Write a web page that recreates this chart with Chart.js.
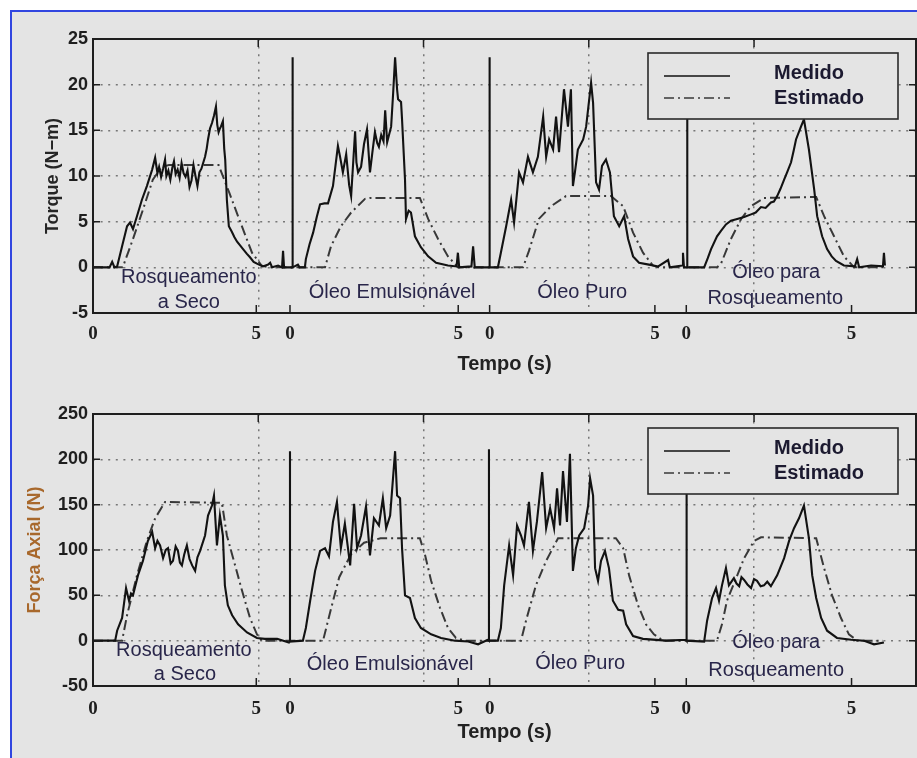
<!DOCTYPE html>
<html>
<head>
<meta charset="utf-8">
<script src="https://cdn.jsdelivr.net/npm/chart.js@4/dist/chart.umd.min.js"></script>
<style>
  body { margin: 0; background: #fff; }
  #folha { position: absolute; left: 10px; top: 10px; width: 907px; height: 748px; background: #e4e4e4;
           border-top: 2px solid #3146e0; border-left: 2px solid #3146e0; }
  canvas { position: absolute; left: 0; }
</style>
</head>
<body>
<div id="folha"></div>
<canvas id="torque" width="917" height="380" style="top:0"></canvas>
<canvas id="forca" width="917" height="378" style="top:380px"></canvas>
<script>
// eixo do tempo: quatro ensaios colados, cada um com seu 0 e 5 s
const marcasTempo = [0, 4.94, 5.96, 11.05, 12.0, 17.0, 17.95, 22.95];
const rotulosTempo = ['0', '5', '0', '5', '0', '5', '0', '5'];

// Torque medido (N-m)
const tTorqueMedido = [
  0, 0.5, 0.58, 0.65, 0.73, 0.88, 1.03, 1.12, 1.21, 1.33, 1.48, 1.63, 1.79, 1.88,
  1.95, 2.0, 2.06, 2.12, 2.18, 2.22, 2.28, 2.34, 2.4, 2.45, 2.5, 2.56, 2.62, 2.68, 2.74, 2.8, 2.86, 2.92, 2.98, 3.04, 3.1, 3.16, 3.22, 3.28,
  3.39, 3.44, 3.48, 3.54, 3.6, 3.66, 3.72, 3.76, 3.8, 3.84, 3.87, 3.93, 3.97, 4.0, 4.05, 4.11, 4.2, 4.28, 4.36, 4.45, 4.54, 4.65, 4.75, 4.86, 4.96, 5.14, 5.3, 5.36, 5.42, 5.6, 5.72, 5.75, 5.78, 6.04, 6.04, 6.04,
  6.2, 6.25, 6.41, 6.44, 6.55, 6.66, 6.77, 6.87, 7.0, 7.11, 7.26, 7.41, 7.47, 7.56, 7.66, 7.75, 7.81, 7.93, 7.97, 8.02, 8.11, 8.2, 8.29, 8.38, 8.45, 8.53, 8.6, 8.65, 8.72, 8.79, 8.84, 8.9, 9.02, 9.08, 9.14, 9.2, 9.23, 9.32, 9.35, 9.44, 9.47, 9.55, 9.62, 9.74, 9.92, 10.14, 10.38, 10.74, 11.0, 11.04, 11.08, 11.45, 11.5, 11.55, 12.0, 12.0, 12.0,
  12.25, 12.34, 12.5, 12.65, 12.74, 12.89, 13.01, 13.16, 13.31, 13.46, 13.62, 13.71, 13.8, 13.92, 14.01, 14.1, 14.25, 14.37, 14.46, 14.52, 14.58, 14.67, 14.83, 14.92, 15.07, 15.13, 15.22, 15.31, 15.4, 15.52, 15.64, 15.76, 15.92, 16.07, 16.19, 16.34, 16.52, 16.82, 17.1, 17.4, 17.45, 17.83, 17.85, 17.88, 17.98, 17.98, 17.98,
  18.49, 18.6, 18.7, 18.88, 19.0, 19.15, 19.3, 19.49, 19.7, 19.91, 20.05, 20.21, 20.35, 20.51, 20.6, 20.7, 20.8, 20.91, 21.0, 21.12, 21.2, 21.27, 21.42, 21.51, 21.66, 21.82, 21.91, 22.06, 22.21, 22.35, 22.48, 22.72, 23.05, 23.12, 23.18, 23.54, 23.9, 23.93, 23.96
];
const torqueMedido = [
  0, 0, 0.6, 0, 0.1, 2.3, 4.5, 4.9, 4.2, 5.6, 7.4, 8.9, 10.7, 12.0,
  10.3, 11.0, 9.9, 10.8, 11.8, 10.0, 10.6, 9.6, 10.9, 11.6, 10.2, 10.7, 9.8, 11.4, 10.3, 9.9, 10.6, 8.8, 9.5, 11.2, 10.0, 8.9, 10.4, 10.8,
  12.1, 13.0, 14.0, 15.2, 15.8, 16.6, 17.6, 15.6, 14.8, 15.2, 15.4, 16.0, 13.0, 11.8, 7.4, 4.5, 3.9, 3.3, 2.8, 2.4, 2.0, 1.5, 1.1, 0.6, 0.4, 0.1, 0.3, 0.5, 0, 0.2, 0, 1.8, 0, 0, 23, 0,
  0.3, 0, 0, 0.9, 2.5, 3.8, 5.5, 6.9, 7.0, 7.0, 8.9, 13.3, 12.2, 10.4, 12.4, 9.0, 7.8, 14.9, 11.5, 10.4, 11.0, 13.5, 15.1, 10.4, 12.5, 14.8, 13.6, 13.2, 14.5, 13.8, 17.2, 13.7, 15.4, 19.0, 23.0, 19.5, 18.4, 18.1, 16.2, 9.6, 5.3, 6.2, 6.0, 3.4, 2.2, 1.2, 0.5, 0.2, 0.1, 1.6, 0, 0.1, 2.3, 0, 0, 23, 0,
  0, 1.6, 4.5, 7.4, 4.9, 10.4, 9.3, 12.1, 10.4, 12.1, 16.5, 12.1, 14.0, 12.9, 16.5, 12.6, 19.5, 15.4, 19.5, 8.9, 10.4, 12.9, 14.0, 15.4, 20.2, 18.0, 9.3, 8.5, 11.1, 11.8, 10.4, 5.6, 4.5, 5.6, 3.1, 1.2, 0.5, 0.3, 0.1, 0.8, 0, 0.2, 1.6, 0, 0, 23, 0,
  0, 1.0, 2.0, 3.4, 4.0, 4.7, 5.1, 5.3, 5.5, 5.8, 6.0, 6.6, 6.5, 7.1, 7.2, 7.8, 8.6, 9.6, 10.4, 11.5, 12.8, 14.0, 15.4, 16.2, 12.9, 8.5, 5.6, 3.4, 2.0, 1.2, 0.7, 0.2, 0.1, 0.9, 0, 0.2, 0.1, 1.6, 0.2
];

// Torque estimado (N-m)
const tTorqueEstimado = [
  0, 0.9, 1.21, 1.51, 1.81, 2.08, 2.3, 3.8, 4.12, 4.42, 4.81, 5.1, 5.3,
  7.02, 7.2, 7.5, 7.81, 8.23, 8.4, 9.89, 10.14, 10.44, 10.74, 11.04,
  13.01, 13.19, 13.49, 13.86, 14.31, 15.67, 16.04, 16.34, 16.64, 16.94, 17.1,
  18.88, 19.0, 19.3, 19.61, 19.91, 20.3, 21.88, 22.12, 22.42, 22.72, 23.03, 23.9
];
const torqueEstimado = [
  0, 0, 3.1, 6.3, 9.6, 11.0, 11.2, 11.2, 8.2, 5.3, 1.6, 0.2, 0,
  0, 2.3, 4.5, 6.0, 7.5, 7.6, 7.6, 5.3, 3.1, 1.2, 0,
  0, 1.8, 5.3, 6.7, 7.8, 7.8, 6.7, 3.8, 1.6, 0.2, 0,
  0, 0.4, 3.1, 5.3, 6.7, 7.6, 7.7, 5.6, 3.4, 1.2, 0, 0
];

// Força axial medida (N)
const tForcaMedido = [
  0, 0.67, 0.73, 0.88, 1.0, 1.05, 1.09, 1.15, 1.21, 1.36, 1.51, 1.66, 1.79, 1.88, 1.95, 2.03, 2.12, 2.2, 2.27, 2.35, 2.42, 2.5, 2.57, 2.63, 2.69, 2.76, 2.84, 2.92, 3.0, 3.09, 3.16, 3.24, 3.39, 3.48, 3.6, 3.66, 3.75, 3.84, 3.93, 3.99, 4.08, 4.21, 4.39, 4.66, 4.96, 5.2, 5.57, 5.93, 5.96, 5.96, 5.96,
  6.35, 6.44, 6.57, 6.72, 6.87, 7.02, 7.14, 7.26, 7.38, 7.5, 7.62, 7.78, 7.9, 7.99, 8.11, 8.26, 8.38, 8.5, 8.65, 8.77, 8.87, 8.99, 9.14, 9.2, 9.29, 9.35, 9.44, 9.59, 9.74, 9.92, 10.23, 10.53, 10.95, 11.35, 11.65, 11.95, 11.98, 11.98, 11.98,
  12.25, 12.34, 12.44, 12.59, 12.71, 12.83, 12.95, 13.04, 13.19, 13.31, 13.43, 13.59, 13.71, 13.83, 13.95, 14.04, 14.13, 14.22, 14.34, 14.43, 14.52, 14.61, 14.71, 14.86, 14.98, 15.04, 15.13, 15.19, 15.28, 15.37, 15.49, 15.61, 15.73, 15.89, 16.04, 16.13, 16.34, 16.64, 17.34, 17.94, 17.96, 17.96, 17.96,
  18.49, 18.58, 18.73, 18.85, 18.94, 19.03, 19.15, 19.24, 19.39, 19.47, 19.55, 19.62, 19.7, 19.8, 19.91, 20.0, 20.09, 20.2, 20.3, 20.4, 20.51, 20.7, 20.91, 21.06, 21.21, 21.36, 21.51, 21.66, 21.76, 21.88, 22.03, 22.21, 22.51, 22.94, 23.33, 23.63, 23.93
];
const forcaMedido = [
  0, 0, 11, 25, 58, 50, 44, 52, 50, 72, 88, 110, 120, 102, 110, 105, 91, 100, 102, 85, 88, 104, 99, 86, 83, 95, 105, 90, 83, 77, 92, 99, 116, 138, 149, 160, 105, 138, 116, 61, 39, 28, 18, 9, 3, 2, 2, -2, -1, 209, -1,
  0, 14, 44, 77, 99, 102, 93, 131, 153, 102, 129, 83, 151, 102, 116, 148, 94, 135, 127, 157, 124, 138, 209, 160, 157, 102, 50, 47, 25, 14, 7, 3, 0, -1, -4, 1, 0, 211, 0,
  0, 14, 61, 105, 72, 127, 116, 105, 153, 99, 131, 186, 124, 146, 124, 168, 127, 187, 131, 206, 77, 102, 116, 124, 149, 179, 160, 80, 66, 88, 99, 80, 44, 34, 33, 18, 5, 2, 0, 1, 0, 211, 0,
  -1, 22, 47, 58, 44, 61, 80, 61, 69, 63, 60, 70, 67, 62, 58, 68, 66, 60, 61, 65, 60, 72, 91, 110, 124, 135, 149, 113, 72, 47, 25, 11, 3, 1, 0, -4, -2
];

// Força axial estimada (N)
const tForcaEstimado = [
  0, 0.88, 1.03, 1.33, 1.63, 1.88, 2.18, 3.9, 4.05, 4.24, 4.51, 4.75, 4.96, 5.11,
  6.96, 7.2, 7.45, 7.8, 8.2, 8.7, 9.89, 10.05, 10.23, 10.5, 10.74, 10.98, 11.26,
  12.95, 13.1, 13.4, 13.71, 14.07, 15.82, 16.04, 16.22, 16.49, 16.73, 16.97, 17.25,
  18.88, 19.03, 19.18, 19.46, 19.7, 20.0, 20.21, 21.88, 22.12, 22.36, 22.63, 22.87, 23.12, 23.9
];
const forcaEstimado = [
  0, 0, 28, 72, 110, 135, 153, 152, 116, 91, 55, 25, 7, 0,
  0, 35, 70, 95, 108, 113, 113, 94, 66, 36, 14, 3, 0,
  0, 22, 61, 88, 113, 113, 102, 72, 39, 18, 7, 0,
  0, 18, 44, 69, 91, 110, 114, 113, 80, 50, 25, 7, 0, 0
];

// textos dentro dos gráficos (tempo, valor)
const notasTorque = [
  ['Rosqueamento', 2.9, -1.1], ['a Seco', 2.9, -3.9], ['Óleo Emulsionável', 9.05, -2.8],
  ['Óleo Puro', 14.8, -2.8], ['Óleo para', 20.67, -0.6], ['Rosqueamento', 20.64, -3.45]
];
const notasForca = [
  ['Rosqueamento', 2.75, -10.5], ['a Seco', 2.78, -37.5], ['Óleo Emulsionável', 8.99, -26.5],
  ['Óleo Puro', 14.74, -25.5], ['Óleo para', 20.67, -2.5], ['Rosqueamento', 20.67, -32.5]
];

const pares = (t, v) => t.map((x, i) => ({ x, y: v[i] }));
const fundo = '#e4e4e4';
const tinta = '#1e1e1e';
const tracoEstimado = [10, 4, 2, 4];

// moldura do Matlab: caixa, marcas para dentro, textos e legenda
const moldura = {
  id: 'moldura',
  afterDatasetsDraw(chart, args, opts) {
    const { ctx, chartArea: a, scales } = chart;
    ctx.save();
    ctx.strokeStyle = tinta;
    ctx.lineWidth = 1.5;
    ctx.beginPath();
    scales.x.ticks.forEach(t => {
      const px = scales.x.getPixelForValue(t.value);
      ctx.moveTo(px, a.bottom); ctx.lineTo(px, a.bottom - 8);
    });
    scales.x2.ticks.forEach(t => {
      if (t.value <= 0) return;
      const px = scales.x2.getPixelForValue(t.value);
      ctx.moveTo(px, a.top); ctx.lineTo(px, a.top + 8);
    });
    scales.y.ticks.forEach(t => {
      const py = scales.y.getPixelForValue(t.value);
      ctx.moveTo(a.left, py); ctx.lineTo(a.left + 7, py);
      ctx.moveTo(a.right, py); ctx.lineTo(a.right - 7, py);
    });
    ctx.stroke();
    ctx.lineWidth = 2;
    ctx.strokeRect(a.left, a.top, a.width, a.height);

    ctx.fillStyle = '#29264a';
    ctx.font = '20px "Liberation Sans"';
    ctx.textAlign = 'center';
    ctx.textBaseline = 'middle';
    opts.notas.forEach(([texto, t, v]) => {
      ctx.fillText(texto, scales.x.getPixelForValue(t), scales.y.getPixelForValue(v));
    });

    // legenda
    const bx = a.right - 268, by = a.top + 14, bw = 250, bh = 66;
    ctx.fillStyle = fundo;
    ctx.fillRect(bx, by, bw, bh);
    ctx.lineWidth = 1.6;
    ctx.strokeStyle = '#2a2a2a';
    ctx.strokeRect(bx, by, bw, bh);
    const linhas = [[23, 20], [45, 45]];
    chart.data.datasets.forEach((ds, i) => {
      const [ly, ty] = linhas[i];
      ctx.beginPath();
      ctx.strokeStyle = ds.borderColor;
      ctx.lineWidth = 1.7;
      ctx.setLineDash(ds.borderDash || []);
      ctx.moveTo(bx + 16, by + ly); ctx.lineTo(bx + 82, by + ly);
      ctx.stroke();
      ctx.setLineDash([]);
      ctx.fillStyle = '#1c1a30';
      ctx.font = 'bold 20px "Liberation Sans"';
      ctx.textAlign = 'left';
      ctx.fillText(ds.label, bx + 126, by + ty);
    });
    ctx.restore();
  }
};

function grafico(id, cfg) {
  const fonteEixo = { family: 'Liberation Sans', size: 18, weight: 'bold' };
  return new Chart(document.getElementById(id), {
    type: 'scatter',
    data: {
      datasets: [
        { label: 'Medido', data: cfg.medido, showLine: true, pointRadius: 0,
          borderColor: '#121212', borderWidth: 2.1 },
        { label: 'Estimado', data: cfg.estimado, showLine: true, pointRadius: 0,
          borderColor: '#383838', borderWidth: 2, borderDash: tracoEstimado }
      ]
    },
    options: {
      responsive: false,
      animation: false,
      layout: { padding: { top: cfg.topo, right: 1, left: 0, bottom: 0 } },
      plugins: {
        legend: { display: false },
        tooltip: { enabled: false },
        moldura: { notas: cfg.notas }
      },
      scales: {
        x: {
          type: 'linear', position: 'bottom', min: 0, max: 24.9,
          afterBuildTicks: s => { s.ticks = marcasTempo.map(v => ({ value: v })); },
          ticks: {
            autoSkip: false, maxRotation: 0, padding: cfg.padRotulo, color: tinta,
            font: { family: 'Liberation Serif', size: 19, weight: 'bold' },
            callback: (v, i) => rotulosTempo[i]
          },
          grid: { display: false, drawTicks: false },
          border: { display: false },
          title: { display: true, text: 'Tempo (s)', color: '#222',
                   font: { family: 'Liberation Sans', size: 20, weight: 'bold' },
                   padding: { top: 0, bottom: cfg.padTempo } },
          afterFit: s => { s.height = cfg.altX; }
        },
        x2: {
          type: 'linear', position: 'top', min: 0, max: 24.9,
          ticks: { display: false, stepSize: 5 },
          grid: { color: '#777', lineWidth: 1.5, drawTicks: false },
          border: { display: false, dash: [2, 5.6] },
          afterFit: s => { s.height = 0; }
        },
        y: {
          min: cfg.yMin, max: cfg.yMax,
          ticks: { stepSize: cfg.passo, padding: 5, color: tinta, font: fonteEixo },
          grid: { color: '#777', lineWidth: 1.5, drawTicks: false },
          border: { display: false, dash: [2, 5.6] },
          title: { display: true, text: cfg.tituloY, color: cfg.corTitulo, font: fonteEixo,
                   padding: { top: cfg.padTitulo, bottom: 0 } },
          afterFit: s => { s.width = 93; }
        }
      }
    },
    plugins: [moldura]
  });
}

grafico('torque', {
  medido: pares(tTorqueMedido, torqueMedido),
  estimado: pares(tTorqueEstimado, torqueEstimado),
  notas: notasTorque,
  topo: 39, altX: 67, padRotulo: 10, padTempo: 4,
  yMin: -5, yMax: 25, passo: 5,
  tituloY: 'Torque (N−m)', corTitulo: '#252525', padTitulo: 42
});

grafico('forca', {
  medido: pares(tForcaMedido, forcaMedido),
  estimado: pares(tForcaEstimado, forcaEstimado),
  notas: notasForca,
  topo: 34, altX: 72, padRotulo: 12, padTempo: 14,
  yMin: -50, yMax: 250, passo: 50,
  tituloY: 'Força Axial (N)', corTitulo: '#a8682c', padTitulo: 24
});
</script>
</body>
</html>
